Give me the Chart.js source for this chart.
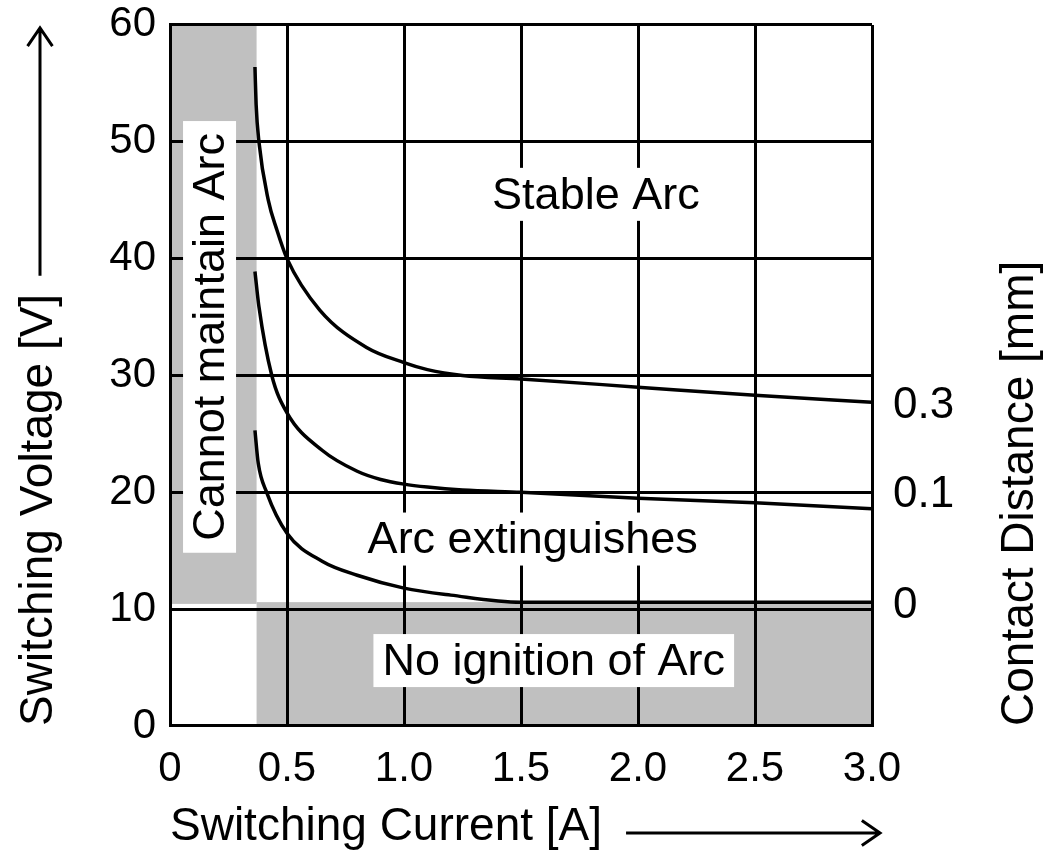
<!DOCTYPE html>
<html>
<head>
<meta charset="utf-8">
<script src="https://cdn.jsdelivr.net/npm/chart.js@4.4.1/dist/chart.umd.min.js"></script>
<style>
  html, body { margin: 0; padding: 0; background: #fff; }
  #wrap { width: 1044px; height: 858px; }
</style>
</head>
<body>
<div id="wrap"><canvas id="arcChart" width="1044" height="858"></canvas></div>
<script>
// curves: switching current [A] -> switching voltage [V]
const current03 = [0.363, 0.368, 0.38, 0.42, 0.456, 0.5, 0.64, 0.84, 1.0, 1.1, 1.25, 1.5, 2.0, 2.5, 3.0];
const voltage03 = [56.4, 53.2, 50.0, 45.0, 42.5, 40.0, 35.6, 32.4, 31.1, 30.5, 30.0, 29.7, 29.0, 28.3, 27.7];

const current01 = [0.363, 0.38, 0.435, 0.5, 0.65, 0.8, 0.9, 1.0, 1.1, 1.25, 1.5, 2.0, 2.5, 3.0];
const voltage01 = [38.9, 35.9, 30.0, 26.8, 23.6, 21.8, 21.1, 20.7, 20.45, 20.2, 20.0, 19.5, 19.1, 18.6];

const current00 = [0.363, 0.377, 0.413, 0.5, 0.65, 0.8, 1.0, 1.2, 1.5, 2.0, 2.5, 3.0];
const voltage00 = [25.3, 22.5, 20.0, 16.5, 14.1, 12.9, 11.8, 11.2, 10.6, 10.6, 10.6, 10.6];

// contact distance labels on the right, and the voltage they sit at
const distanceLabels = ['0.3', '0.1', '0'];
const distanceLabelVolts = [27.4, 19.8, 10.3];

const xTicks = [0, 0.5, 1.0, 1.5, 2.0, 2.5, 3.0];
const xTickLabels = ['0', '0.5', '1.0', '1.5', '2.0', '2.5', '3.0'];
const yTicks = [0, 10, 20, 30, 40, 50, 60];

// shaded zones [xMin, xMax, yMin, yMax]
const noArcZone = [0, 0.37, 10.45, 60];
const noIgnitionZone = [0.37, 3.0, 0, 10.6];

const regionNames = ['Stable Arc', 'Arc extinguishes', 'No ignition of Arc', 'Cannot maintain Arc'];

const FONT = '"Liberation Sans", Arial, Helvetica, sans-serif';
const GRAY = '#c0c0c0';

function toPoints(xs, ys) {
    return xs.map((x, i) => ({ x: x, y: ys[i] }));
}

const series = [
    { label: '0.3 mm', data: toPoints(current03, voltage03) },
    { label: '0.1 mm', data: toPoints(current01, voltage01) },
    { label: '0 mm', data: toPoints(current00, voltage00) },
];

// gray zones go under the grid
const zonePlugin = {
    id: 'zones',
    beforeDraw(chart) {
        const { ctx, scales: { x, y } } = chart;
        ctx.save();
        ctx.fillStyle = '#fff';
        ctx.fillRect(0, 0, chart.width, chart.height);
        ctx.fillStyle = GRAY;
        [noArcZone, noIgnitionZone].forEach(z => {
            const x0 = x.getPixelForValue(z[0]), x1 = x.getPixelForValue(z[1]);
            const y0 = y.getPixelForValue(z[3]), y1 = y.getPixelForValue(z[2]);
            ctx.fillRect(x0, y0, x1 - x0, y1 - y0);
        });
        ctx.restore();
    }
};

// region names with white boxes, arrows, right title
const notePlugin = {
    id: 'notes',
    afterDraw(chart) {
        const { ctx, chartArea, scales: { x, y } } = chart;
        const notes = [
            { text: regionNames[0], x: 1.82, y: 45.5 },
            { text: regionNames[1], x: 1.55, y: 16.0 },
            { text: regionNames[2], x: 1.64, y: 5.6 },
            { text: regionNames[3], x: 0.169, y: 33.3, vertical: true },
        ];
        ctx.save();
        ctx.font = '45px ' + FONT;
        ctx.textAlign = 'center';
        ctx.textBaseline = 'middle';
        notes.forEach(n => {
            const px = x.getPixelForValue(n.x);
            const py = y.getPixelForValue(n.y);
            const w = ctx.measureText(n.text).width + (n.vertical ? 24 : 18);
            const h = 53;
            ctx.save();
            ctx.translate(px, py);
            if (n.vertical) ctx.rotate(-Math.PI / 2);
            ctx.fillStyle = '#fff';
            ctx.fillRect(-w / 2, -h / 2, w, h);
            ctx.fillStyle = '#000';
            ctx.fillText(n.text, 0, 2);
            ctx.restore();
        });

        // axis arrows
        ctx.strokeStyle = '#000';
        ctx.lineWidth = 3;
        ctx.font = '46px ' + FONT;
        const xTitleW = ctx.measureText(x.options.title.text).width;
        const yTitleW = ctx.measureText(y.options.title.text).width;
        const xArrowY = chart.height - 30 + 5;
        drawArrow(ctx, x.left + xTitleW + 24, xArrowY, chartArea.right + 8, xArrowY);
        const yArrowX = 40;
        drawArrow(ctx, yArrowX, y.bottom - yTitleW - 18, yArrowX, chartArea.top + 3);

        // right hand title reads upwards
        ctx.save();
        ctx.translate(chartArea.right + 148, chartArea.bottom);
        ctx.rotate(-Math.PI / 2);
        ctx.textAlign = 'left';
        ctx.textBaseline = 'middle';
        ctx.fillStyle = '#000';
        ctx.fillText('Contact Distance [mm]', 0, 0);
        ctx.restore();
        ctx.restore();
    }
};

function drawArrow(ctx, x0, y0, x1, y1) {
    const ang = Math.atan2(y1 - y0, x1 - x0);
    const len = 22, spread = 0.6;
    ctx.beginPath();
    ctx.moveTo(x0, y0);
    ctx.lineTo(x1, y1);
    ctx.moveTo(x1 - len * Math.cos(ang - spread), y1 - len * Math.sin(ang - spread));
    ctx.lineTo(x1, y1);
    ctx.lineTo(x1 - len * Math.cos(ang + spread), y1 - len * Math.sin(ang + spread));
    ctx.stroke();
}

const ctx = document.getElementById('arcChart').getContext('2d');
new Chart(ctx, {
    type: 'scatter',
    data: {
        datasets: series.map(s => ({
            label: s.label,
            data: s.data,
            showLine: true,
            borderColor: '#000',
            borderWidth: 3.5,
            pointRadius: 0,
            cubicInterpolationMode: 'monotone',
            fill: false,
        }))
    },
    options: {
        responsive: false,
        animation: false,
        layout: { padding: 0 },
        plugins: {
            legend: { display: false },
            tooltip: { enabled: false },
        },
        scales: {
            x: {
                type: 'linear',
                min: 0,
                max: 3,
                afterBuildTicks: s => { s.ticks = xTicks.map(v => ({ value: v })); },
                afterFit: s => { s.height = 132; },
                ticks: {
                    callback: (v, i) => xTickLabels[i],
                    color: '#000',
                    font: { family: FONT, size: 42 },
                    padding: 18,
                    maxRotation: 0,
                    autoSkip: false,
                },
                grid: { color: '#000', lineWidth: 3, drawTicks: false },
                border: { color: '#000', width: 3 },
                title: {
                    display: true,
                    text: 'Switching Current [A]',
                    align: 'start',
                    color: '#000',
                    font: { family: FONT, size: 46 },
                    padding: { top: 0, bottom: 3 },
                },
            },
            y: {
                type: 'linear',
                min: 0,
                max: 60,
                afterBuildTicks: s => { s.ticks = yTicks.map(v => ({ value: v })); },
                afterFit: s => { s.width = 170; },
                ticks: {
                    color: '#000',
                    // small lineHeight keeps the plot top close to the canvas edge
                    font: { family: FONT, size: 42, lineHeight: 0.52 },
                    padding: 14,
                    autoSkip: false,
                },
                grid: { color: '#000', lineWidth: 3, drawTicks: false },
                border: { color: '#000', width: 3 },
                title: {
                    display: true,
                    text: 'Switching Voltage [V]',
                    align: 'start',
                    color: '#000',
                    font: { family: FONT, size: 46 },
                    padding: { top: 12, bottom: 0 },
                },
            },
            y2: {
                type: 'linear',
                position: 'right',
                min: 0,
                max: 60,
                afterBuildTicks: s => { s.ticks = distanceLabelVolts.map(v => ({ value: v })); },
                afterFit: s => { s.width = 172; },
                ticks: {
                    callback: (v, i) => distanceLabels[i],
                    color: '#000',
                    font: { family: FONT, size: 44, lineHeight: 0.5 },
                    padding: 13,
                    autoSkip: false,
                },
                grid: { display: false },
                border: { display: false },
            },
        },
    },
    plugins: [zonePlugin, notePlugin],
});
</script>
</body>
</html>
